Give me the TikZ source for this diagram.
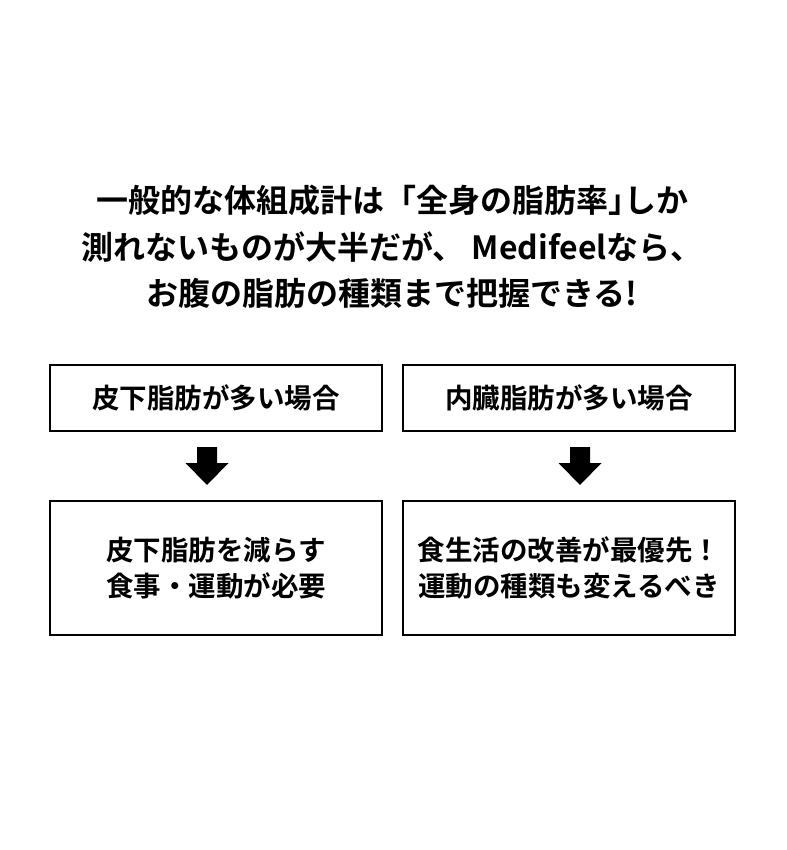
\documentclass[tikz,border=0pt]{standalone}
\usepackage{fontspec}
\setmainfont{Noto Sans CJK JP}
\newfontfamily\jpb{Noto Sans CJK JP Bold}
\usetikzlibrary{calc}
\begin{document}
\begin{tikzpicture}[x=1pt,y=-1pt,
  box/.style={draw=black,line width=1.2pt,minimum width=332pt,inner sep=0pt,align=center,font=\jpb\fontsize{27.5}{36}\selectfont},
  title/.style={align=center,font=\jpb\fontsize{32}{46.5}\selectfont,inner sep=0pt},
  blockarrow/.style={fill=black}]
\useasboundingbox (0,0) rectangle (786,850);
\node[title] (t) at (392,247) {一般的な体組成計は「全身の脂肪率\makebox[0.5em][l]{」}しか\\測れないものが大半だが、 Medifeelなら、\\お腹の脂肪の種類まで把握できる!};
\node[box,minimum height=66pt] (l1) at (216,398) {皮下脂肪が多い場合};
\node[box,minimum height=66pt] (r1) at (569,398) {内臓脂肪が多い場合};
\node[box,minimum height=134pt] (l2) at (216,568) {皮下脂肪を減らす\\食事・運動が必要};
\node[box,minimum height=134pt] (r2) at (569,568) {食生活の改善が最優先！\\運動の種類も変えるべき};
\coordinate (la) at (207,447);
\coordinate (ra) at (580,447);
\foreach \c in {la,ra}{
  \fill[blockarrow] ($(\c)+(-10,0)$) -- ($(\c)+(10,0)$) -- ($(\c)+(10,16)$) -- ($(\c)+(21.5,16)$) -- ($(\c)+(0,38)$) -- ($(\c)+(-21.5,16)$) -- ($(\c)+(-10,16)$) -- cycle;
}
\end{tikzpicture}
\end{document}
